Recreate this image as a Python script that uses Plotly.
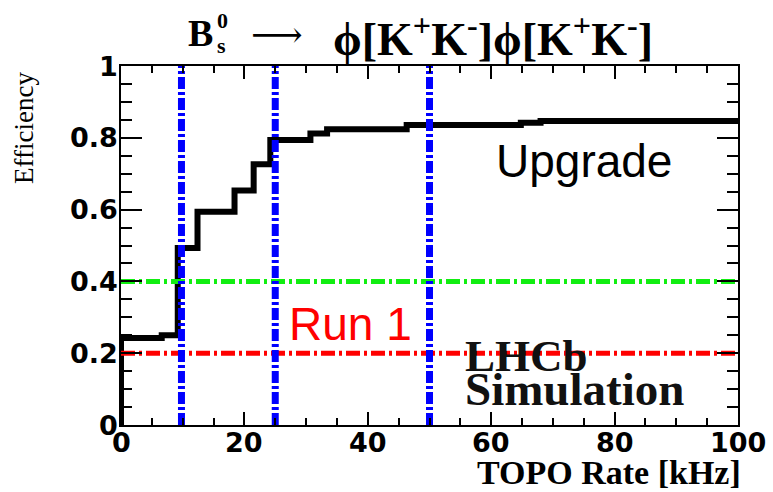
import plotly.graph_objects as go

# ---- data ----
rate_khz = [0, 0, 6.6, 9.2, 12.4, 18.4, 21.5, 24.2, 30.7, 33.4, 46.3, 64.8, 68.0, 100]
efficiency = [0, 0.242, 0.250, 0.493, 0.594, 0.653, 0.726, 0.794, 0.812, 0.824, 0.836, 0.842, 0.847, 0.847]

rate_cuts = [9.8, 25, 50]          # blue vertical lines
run1_eff = 0.20                    # red line
green_eff = 0.40                   # green line

x_ticks = [0, 20, 40, 60, 80, 100]
x_ticklabels = ["0", "20", "40", "60", "80", "100"]
y_ticks = [0, 0.2, 0.4, 0.6, 0.8, 1]
y_ticklabels = ["0", "0.2", "0.4", "0.6", "0.8", "1"]

W, H = 773, 492
ML, MR, MT, MB = 121, 35, 66, 67
PW, PH = W - ML - MR, H - MT - MB


def px(xp):
    return (xp - ML) / PW


def py(yp):
    return (H - MB - yp) / PH


fig = go.Figure()

# black efficiency curve
fig.add_trace(go.Scatter(x=rate_khz, y=efficiency, mode="lines", line_shape="hv",
                         line=dict(color="black", width=6), cliponaxis=False,
                         showlegend=False, hoverinfo="skip"))

# horizontal reference lines
for val, col in [(green_eff, "#11ee11"), (run1_eff, "#ff0000")]:
    fig.add_trace(go.Scatter(x=[0, 100], y=[val, val], mode="lines",
                             line=dict(color=col, width=5, dash="14px,4px,3px,4px"),
                             showlegend=False, hoverinfo="skip"))

# vertical blue lines
for c in rate_cuts:
    fig.add_trace(go.Scatter(x=[c, c], y=[0, 1], mode="lines",
                             line=dict(color="#0000ff", width=7, dash="12px,3px,3px,3px"),
                             showlegend=False, hoverinfo="skip"))

serif = "Liberation Serif"
tickfont = dict(family="DejaVu Sans", size=27, color="black", weight="bold")
ann = []
# tick labels (placed tight to the axes, like the ROOT original)
for v, t in zip(y_ticks, y_ticklabels):
    ann.append(dict(text=t, x=px(120), y=v, xref="paper", yref="y",
                    xanchor="right", yanchor="middle", font=tickfont))
for v, t in zip(x_ticks, x_ticklabels):
    ann.append(dict(text=t, x=v, y=py(442), xref="x", yref="paper",
                    xanchor="center", yanchor="middle", font=tickfont))
# title pieces
ann.append(dict(text="<b>B</b>", x=px(186), y=py(33), xanchor="left", yanchor="middle",
                font=dict(family=serif, size=38, color="black")))
ann.append(dict(text="<b>0</b>", x=px(215), y=py(21), xanchor="left", yanchor="middle",
                font=dict(family=serif, size=22, color="black")))
ann.append(dict(text="<b>s</b>", x=px(215), y=py(46), xanchor="left", yanchor="middle",
                font=dict(family=serif, size=22, color="black")))
ann.append(dict(text="⟶", x=px(277), y=py(35), xanchor="center", yanchor="middle",
                font=dict(family="DejaVu Serif", size=36, color="black")))
ann.append(dict(text="<b>ϕ[K<sup>+</sup>K<sup>-</sup>]ϕ[K<sup>+</sup>K<sup>-</sup>]</b>",
                x=px(331), y=py(36), xanchor="left", yanchor="middle",
                font=dict(family=serif, size=46, color="black")))
# in-plot labels
ann.append(dict(text="Upgrade", x=px(584), y=py(161), xanchor="center", yanchor="middle",
                font=dict(family="Liberation Sans", size=46, color="black")))
ann.append(dict(text="Run 1", x=px(350), y=py(324), xanchor="center", yanchor="middle",
                font=dict(family="Liberation Sans", size=46, color="#ff0000")))
ann.append(dict(text="<b>LHCb</b>", x=px(463), y=py(356), xanchor="left", yanchor="middle",
                font=dict(family=serif, size=45, color="#111111")))
ann.append(dict(text="<b>Simulation</b>", x=px(463), y=py(389), xanchor="left", yanchor="middle",
                font=dict(family=serif, size=47, color="#111111")))
# axis titles
ann.append(dict(text="<b>TOPO Rate [kHz]</b>", x=px(743), y=py(472), xanchor="right", yanchor="middle",
                font=dict(family=serif, size=34, color="black")))
ann.append(dict(text="Efficiency", x=px(24), y=py(128), xanchor="center", yanchor="middle",
                textangle=-90, font=dict(family=serif, size=27, color="black")))

for a in ann:
    a.setdefault("yref", "paper")
    a.setdefault("xref", "paper")
    a.update(showarrow=False)

fig.update_layout(
    width=W, height=H, autosize=False,
    margin=dict(l=ML, r=MR, t=MT, b=MB, pad=0),
    paper_bgcolor="white", plot_bgcolor="white",
    annotations=ann,
    xaxis=dict(range=[0, 100], tickvals=x_ticks, showticklabels=False, ticks="inside",
               ticklen=13, tickwidth=2,
               tickcolor="black", showline=True, linecolor="black", linewidth=2,
               mirror="ticks", showgrid=False, zeroline=False,
               minor=dict(dtick=5, tick0=0, ticks="inside", ticklen=7, tickwidth=2,
                          tickcolor="black", showgrid=False)),
    yaxis=dict(range=[0, 1], tickvals=y_ticks, showticklabels=False, ticks="inside",
               ticklen=21, tickwidth=2, tickcolor="black", showline=True, linecolor="black",
               linewidth=2, mirror="ticks", showgrid=False, zeroline=False,
               minor=dict(dtick=0.05, tick0=0, ticks="inside", ticklen=11, tickwidth=2,
                          tickcolor="black", showgrid=False)),
)

fig.write_html("out.html")
